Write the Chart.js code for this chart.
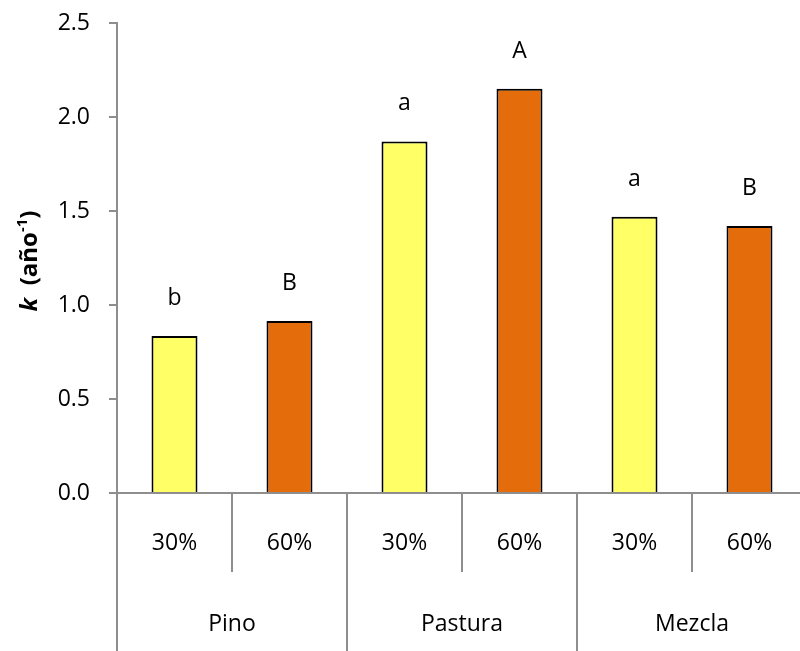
<!DOCTYPE html>
<html>
<head>
<meta charset="utf-8">
<script src="https://cdn.jsdelivr.net/npm/chart.js@4/dist/chart.umd.min.js"></script>
<style>
  html, body { margin: 0; padding: 0; background: #fff; overflow: hidden; width: 800px; height: 651px; }
  #wrap { position: relative; width: 810px; height: 651px; }
</style>
</head>
<body>
<div id="wrap"><canvas id="c" width="810" height="651" style="width:810px;height:651px"></canvas></div>
<script>
const categories = ['30%', '60%', '30%', '60%', '30%', '60%'];
const groups = ['Pino', 'Pastura', 'Mezcla'];
const kValues = [0.835, 0.915, 1.87, 2.15, 1.47, 1.42];
const letters = ['b', 'B', 'a', 'A', 'a', 'B'];
const yTicks = [0, 0.5, 1.0, 1.5, 2.0, 2.5];

const FONT = '"Open Sans", Lato, sans-serif';
const AXIS = '#8e8e8e';
const YELLOW = '#FFFF66';
const ORANGE = '#E46C0A';

const overlay = {
  id: 'overlay',
  afterDraw(chart) {
    const ctx = chart.ctx;
    const xs = chart.scales.x;
    const area = chart.chartArea;
    const H = chart.height;
    const w = xs.getPixelForValue(1) - xs.getPixelForValue(0);
    ctx.save();
    ctx.strokeStyle = AXIS;
    ctx.lineWidth = 2;
    for (let i = 0; i <= categories.length; i++) {
      const x = xs.getPixelForValue(0) - w / 2 + i * w;
      ctx.beginPath();
      ctx.moveTo(x, area.bottom);
      ctx.lineTo(x, i % 2 === 0 ? H : area.bottom + 79);
      ctx.stroke();
    }
    ctx.fillStyle = '#000';
    ctx.font = '23px ' + FONT;
    ctx.textAlign = 'center';
    ctx.textBaseline = 'middle';
    categories.forEach((c, i) => ctx.fillText(c, xs.getPixelForValue(i), area.bottom + 50));
    groups.forEach((g, j) => {
      const x = (xs.getPixelForValue(2 * j) + xs.getPixelForValue(2 * j + 1)) / 2;
      ctx.fillText(g, x, area.bottom + 131);
    });
    const meta = chart.getDatasetMeta(0);
    ctx.textBaseline = 'alphabetic';
    letters.forEach((l, i) => {
      const el = meta.data[i];
      ctx.fillText(l, el.x, el.y - 31);
    });
    ctx.translate(37, 261);
    ctx.rotate(-Math.PI / 2);
    const parts = [
      { t: 'k', f: 'italic bold 24px ' + FONT, dy: 0 },
      { t: '  (año', f: 'bold 24px ' + FONT, dy: 0 },
      { t: '-1', f: 'bold 15px ' + FONT, dy: -10 },
      { t: ')', f: 'bold 24px ' + FONT, dy: 0 }
    ];
    let total = 0;
    parts.forEach(p => { ctx.font = p.f; p.w = ctx.measureText(p.t).width; total += p.w; });
    let x0 = -total / 2;
    ctx.textAlign = 'left';
    parts.forEach(p => { ctx.font = p.f; ctx.fillText(p.t, x0, p.dy); x0 += p.w; });
    ctx.restore();
  }
};

new Chart(document.getElementById('c'), {
  type: 'bar',
  data: {
    labels: categories,
    datasets: [{
      data: kValues,
      backgroundColor: kValues.map((v, i) => i % 2 === 0 ? YELLOW : ORANGE),
      borderColor: '#000',
      borderWidth: 2,
      borderSkipped: 'bottom',
      categoryPercentage: 1.0,
      barPercentage: 0.4
    }]
  },
  options: {
    responsive: false,
    animation: false,
    events: [],
    layout: { padding: { top: 23, right: 3, left: 0, bottom: 0 } },
    plugins: { legend: { display: false }, tooltip: { enabled: false } },
    scales: {
      x: {
        grid: { display: false },
        border: { display: true, color: AXIS, width: 2 },
        ticks: { display: false },
        afterFit(s) { s.height = 158; s.paddingLeft = 0; s.paddingRight = 0; }
      },
      y: {
        min: 0, max: 2.5,
        afterBuildTicks(s) { s.ticks = yTicks.map(v => ({ value: v })); },
        grid: { drawOnChartArea: false, drawTicks: true, tickLength: 8, color: AXIS, lineWidth: 2 },
        border: { display: true, color: AXIS, width: 2 },
        ticks: {
          padding: 19,
          color: '#000',
          font: { family: FONT, size: 23 },
          callback: v => Number(v).toFixed(1)
        },
        afterFit(s) { s.width = 117; s.paddingTop = 0; s.paddingBottom = 0; }
      }
    }
  },
  plugins: [overlay]
});
</script>
</body>
</html>
